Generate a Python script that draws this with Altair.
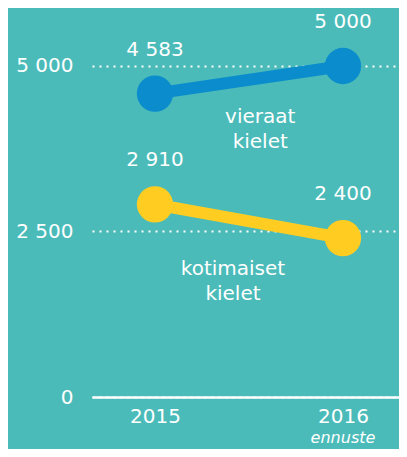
import altair as alt
import pandas as pd

years = [2015, 2016]
series_names = ["vieraat", "kotimaiset"]
foreign_values = [4583, 5000]
domestic_values = [2910, 2400]

series_labels = ["vieraat\nkielet", "kotimaiset\nkielet"]
series_label_x = [2015.56, 2015.415]
series_label_y = [4237, 1941]

forecast_year = [2016]
forecast_text = ["ennuste"]

colors = ["#0A8CCD", "#FFCC22"]
bg = "#4ABBB9"
font = "DejaVu Sans"

rows = []
for name, vals in zip(series_names, [foreign_values, domestic_values]):
    for y, v in zip(years, vals):
        rows.append({"year": y, "value": v, "series": name})
df = pd.DataFrame(rows)

lab_df = pd.DataFrame({"x": series_label_x, "y": series_label_y, "text": series_labels})
fc_df = pd.DataFrame({"year": forecast_year, "text": forecast_text})

W, H = 307, 389
xscale = alt.Scale(domain=[2014.665, 2016.298], nice=False, zero=False)
yscale = alt.Scale(domain=[0, 5876], nice=False)
cscale = alt.Scale(domain=series_names, range=colors)

fmt = "replace(format(datum.value, ','), ',', ' ')"

base = alt.Chart(df).encode(
    x=alt.X("year:Q", scale=xscale, axis=alt.Axis(
        values=years, format="d", grid=False, ticks=False,
        domainColor="white", domainWidth=2.5, labelPadding=9,
        labelFontSize=20, labelColor="white", labelFont=font, title=None)),
    y=alt.Y("value:Q", scale=yscale, axis=alt.Axis(
        values=[0, 2500, 5000], labelExpr=fmt, grid=True, gridColor="white",
        gridDash=[2, 5], gridWidth=2, domain=False, ticks=False,
        labelPadding=19, labelFontSize=20, labelColor="white", labelFont=font,
        title=None)),
    color=alt.Color("series:N", scale=cscale, legend=None),
    detail="series:N",
)

lines = base.mark_line(strokeWidth=12)
points = base.mark_point(filled=True, opacity=1, size=1320, shape="circle")
vlabels = base.mark_text(fontSize=20, font=font, color="white", dy=-44,
                         baseline="middle").encode(
    text="label:N", color=alt.value("white")
).transform_calculate(label=fmt)

slabels = alt.Chart(lab_df).mark_text(
    fontSize=20, font=font, color="white", lineBreak="\n", lineHeight=25,
    baseline="middle", align="center"
).encode(
    x=alt.X("x:Q", scale=xscale),
    y=alt.Y("y:Q", scale=yscale),
    text="text:N",
)

fc = alt.Chart(fc_df).mark_text(
    fontSize=16, font=font, fontStyle="italic", color="white",
    baseline="middle", align="center", dy=41
).encode(
    x=alt.X("year:Q", scale=xscale),
    y=alt.value(H),
    text="text:N",
)

chart = alt.layer(lines, points, vlabels, slabels, fc).properties(
    width=W, height=H,
    autosize=alt.AutoSizeParams(type="none"),
    padding={"left": 84, "top": 0, "right": 0, "bottom": 52},
    background=bg,
).configure_view(stroke=None)

chart.save("out.html", embed_options={"renderer": "svg", "actions": False})
